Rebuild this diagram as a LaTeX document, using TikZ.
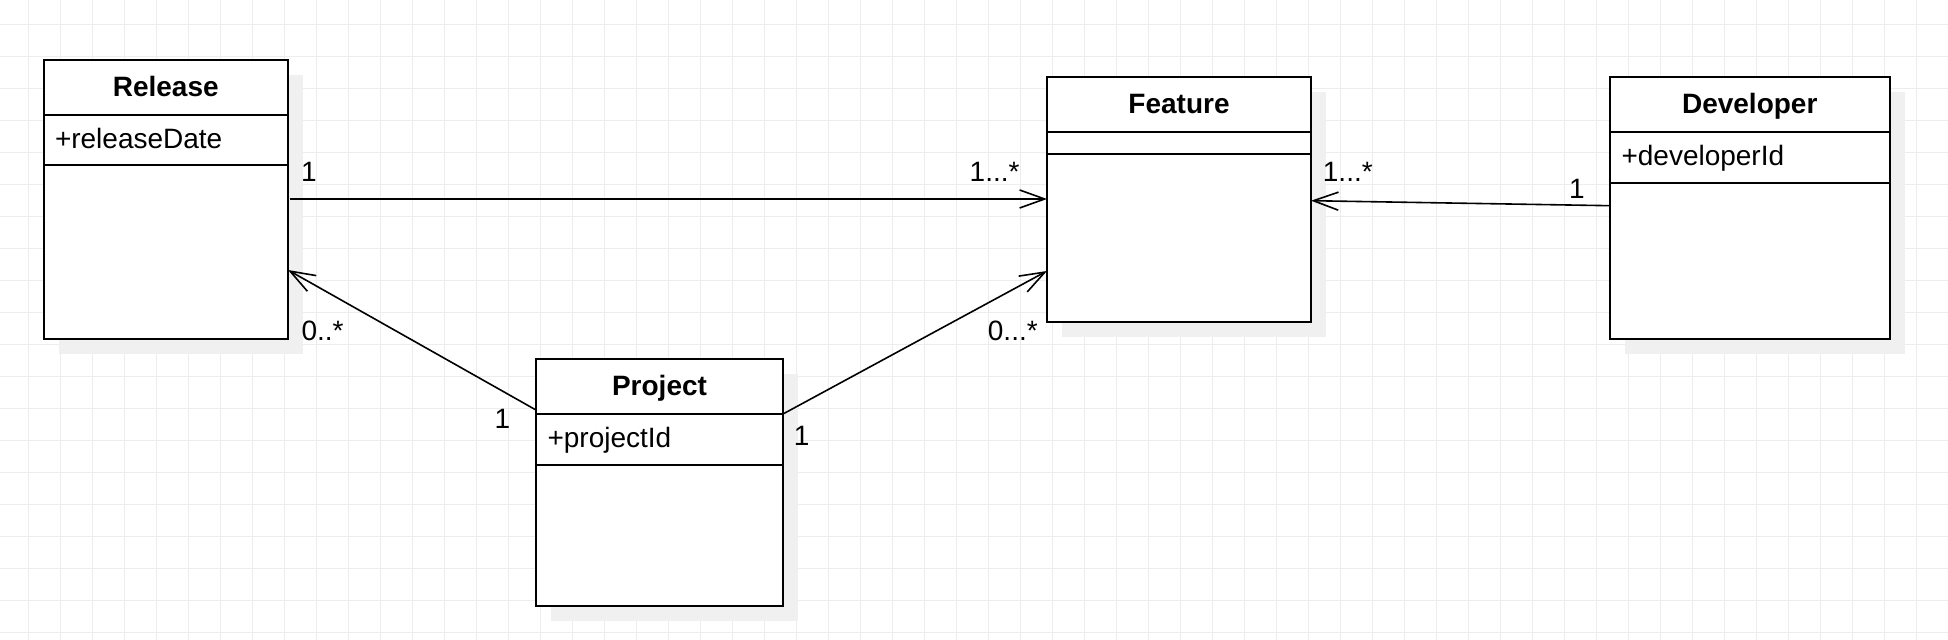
\documentclass[tikz,border=0pt]{standalone}
\usepackage{fontspec}
\setmainfont{Liberation Sans}
\usetikzlibrary{positioning,arrows.meta,backgrounds}

\begin{document}
\begin{tikzpicture}[%
        x=0.5pt, y=-0.5pt,
        font=\fontsize{14}{16.8}\selectfont,
        classtitle/.style={draw, line width=1pt, fill=white, outer sep=0pt,
            inner sep=0pt, text height=11pt, text depth=1.8pt,
            font=\fontsize{14}{16.8}\selectfont\bfseries, anchor=north west},
        classrow/.style={draw, line width=1pt, fill=white, outer sep=0pt,
            inner xsep=5.75pt, inner ysep=0pt, align=left},
        classattr/.style={classrow, text height=10.5pt, text depth=2pt},
        assoc/.style={line width=0.8pt, -{Straight Barb[length=12.5pt,width=9pt]}},
        mult/.style={inner sep=0pt},
        gridline/.style={black!7, line width=0.5pt},
        classshadow/.style={fill=black!6}
    ]
        \useasboundingbox (0,0) rectangle (1948,640);

        % Release
        \node [classtitle, minimum width=122.25pt, minimum height=27.5pt]
            (release) at (43.5,60) {Release};
        \node [classattr, below=0pt of release, text width=110.75pt, minimum height=25pt]
            (releaseattr) {+releaseDate};
        \node [classrow, below=0pt of releaseattr, text width=110.75pt, minimum height=87pt]
            (releaseops) {};

        % Feature
        \node [classtitle, minimum width=132pt, minimum height=27.5pt]
            (feature) at (1047,77) {Feature};
        \node [classrow, below=0pt of feature, text width=120.5pt, minimum height=11pt]
            (featureattr) {};
        \node [classrow, below=0pt of featureattr, text width=120.5pt, minimum height=84pt]
            (featureops) {};

        % Developer
        \node [classtitle, minimum width=139.75pt, minimum height=27.5pt]
            (developer) at (1610,77) {Developer};
        \node [classattr, below=0pt of developer, text width=128.25pt, minimum height=25.5pt]
            (developerattr) {+developerId};
        \node [classrow, below=0pt of developerattr, text width=128.25pt, minimum height=78pt]
            (developerops) {};

        % Project
        \node [classtitle, minimum width=123.5pt, minimum height=27.5pt]
            (project) at (536,359) {Project};
        \node [classattr, below=0pt of project, text width=112pt, minimum height=25.5pt]
            (projectattr) {+projectId};
        \node [classrow, below=0pt of projectattr, text width=112pt, minimum height=70.5pt]
            (projectops) {};

        \begin{scope}[on background layer]
            \fill [white] (0,0) rectangle (1948,640);
            \foreach \k in {0,...,60}
                \draw [gridline] (28.3+32*\k,0) -- (28.3+32*\k,640);
            \foreach \k in {0,...,19}
                \draw [gridline] (0,24.3+32*\k) -- (1948,24.3+32*\k);
            \foreach \c in {release,feature,developer,project}
                \fill [classshadow] ([shift={(7.5pt,-7.5pt)}]\c.north west)
                    rectangle ([shift={(7.5pt,-7.5pt)}]\c ops.south east);
        \end{scope}

        % associations
        \draw [assoc] ([xshift=1pt,yshift=-17pt]releaseops.north east)
            -- ([yshift=-22.5pt]featureops.north west);
        \draw [assoc] ([yshift=2pt]project.south west)
            -- ([yshift=-52.5pt]releaseops.north east);
        \draw [assoc] (project.south east)
            -- ([yshift=-58.5pt]featureops.north west);
        \draw [assoc] ([yshift=-11.35pt]developerops.north west)
            -- ([yshift=-23.35pt]featureops.north east);

        % multiplicities
        \node [mult] (mrf) at (308.9,171.4) {1};
        \node [mult] (mfr) at (994.6,171.7) {1...*};
        \node [mult] (mrp) at (322.6,330.6) {0..*};
        \node [mult] (mpr) at (502.5,418.4) {1};
        \node [mult] (mpf) at (801.6,436) {1};
        \node [mult] (mfp) at (1012.8,330.7) {0...*};
        \node [mult] (mfd) at (1347.8,171.7) {1...*};
        \node [mult] (mdf) at (1577,189.3) {1};
    \end{tikzpicture}
\end{document}
